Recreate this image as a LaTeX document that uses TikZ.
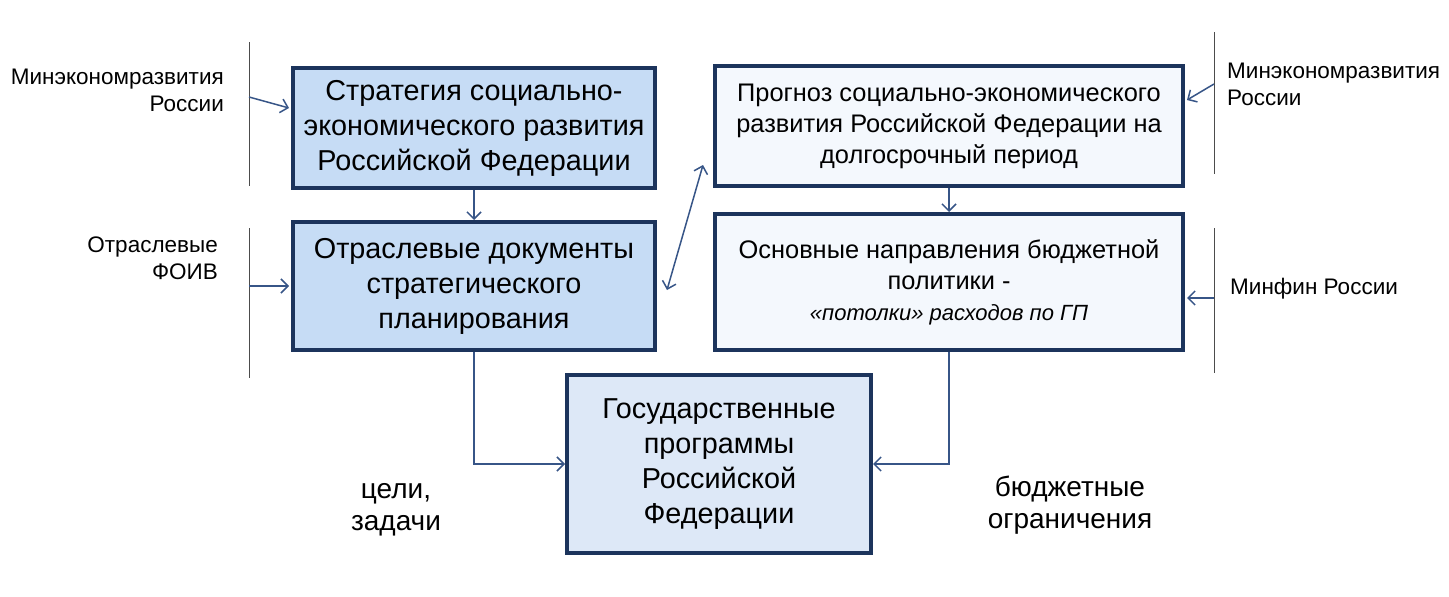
\documentclass[tikz,border=0pt]{standalone}
\usepackage{fontspec}
\setmainfont{Liberation Sans}
\usetikzlibrary{shapes,arrows,arrows.meta}
\definecolor{boxline}{RGB}{28,52,92}
\definecolor{darkfill}{RGB}{198,220,245}
\definecolor{midfill}{RGB}{221,232,247}
\definecolor{lightfill}{RGB}{244,248,253}
\definecolor{arrowblue}{RGB}{55,85,135}
\tikzstyle{block} = [rectangle, draw=boxline, line width=4pt, fill=darkfill,
align=center, inner sep=0pt, font=\fontsize{28.8}{35}\selectfont]
\tikzstyle{lightblock} = [block, fill=lightfill, font=\fontsize{25.4}{31}\selectfont]
\tikzstyle{source} = [inner sep=0pt, font=\fontsize{22.5}{27}\selectfont]
\tikzstyle{note} = [inner sep=0pt, align=center, font=\fontsize{28}{32}\selectfont]
\tikzstyle{line} = [draw=arrowblue, line width=1.5pt, -{Straight Barb[length=7pt,width=14pt]}]
\tikzstyle{bar} = [draw=black!70, line width=1pt]

\begin{document}
\begin{tikzpicture}[x=1pt, y=-1pt]
\useasboundingbox (0,0) rectangle (1449,597);
% Place nodes
\node [block, minimum width=362, minimum height=120] (strat) at (474,128)
  {Стратегия социально-\\экономического развития\\Российской Федерации};
\node [block, minimum width=362, minimum height=128] (otr) at (474,286)
  {Отраслевые документы\\стратегического\\планирования};
\node [lightblock, minimum width=468, minimum height=120] (prog) at (949,126)
  {Прогноз социально-экономического\\развития Российской Федерации на\\долгосрочный период};
\node [lightblock, minimum width=468, minimum height=136] (osn) at (949,282)
  {Основные направления бюджетной\\политики -\\{\itshape\fontsize{22}{26}\selectfont «потолки» расходов по ГП}};
\node [block, fill=midfill, minimum width=304, minimum height=178] (gos) at (719,464)
  {Государственные\\программы\\Российской\\Федерации};
\node [source, anchor=east, align=right] (mer1) at (224,90) {Минэкономразвития\\России};
\node [source, anchor=east, align=right] (foiv) at (218,258) {Отраслевые\\ФОИВ};
\node [source, anchor=west, align=left] (mer2) at (1227,84) {Минэкономразвития\\России};
\node [source, anchor=west] (minfin) at (1230,289) {Минфин России};
\node [note] (goals) at (396,510) {цели,\\задачи};
\node [note] (limits) at (1070,505) {бюджетные\\ограничения};
% Bars and connector ends
\coordinate (bar1a) at (249,42);  \coordinate (bar1b) at (249,186);
\coordinate (bar2a) at (249,228); \coordinate (bar2b) at (249,378);
\coordinate (bar3a) at (1214,32); \coordinate (bar3b) at (1214,174);
\coordinate (bar4a) at (1214,228); \coordinate (bar4b) at (1214,373);
\coordinate (in1) at (249,97);   \coordinate (to1) at (289,108);
\coordinate (in2) at (249,286);  \coordinate (to2) at (289,286);
\coordinate (in3) at (1214,84);  \coordinate (to3) at (1187,100);
\coordinate (in4) at (1214,298); \coordinate (to4) at (1187,298);
\coordinate (dbl1) at (667,290); \coordinate (dbl2) at (703,165);
\path [bar] (bar1a) -- (bar1b);
\path [bar] (bar2a) -- (bar2b);
\path [bar] (bar3a) -- (bar3b);
\path [bar] (bar4a) -- (bar4b);
% Draw edges
\path [line] (in1) -- (to1);
\path [line] (in2) -- (to2);
\path [line] (in3) -- (to3);
\path [line] (in4) -- (to4);
\path [line] (strat) -- (otr);
\path [line] (prog) -- (osn);
\path [line, {Straight Barb[length=7pt,width=14pt]}-{Straight Barb[length=7pt,width=14pt]}] (dbl1) -- (dbl2);
\path [line] (otr.south) |- (gos.west);
\path [line] (osn.south) |- (gos.east);
\end{tikzpicture}
\end{document}
